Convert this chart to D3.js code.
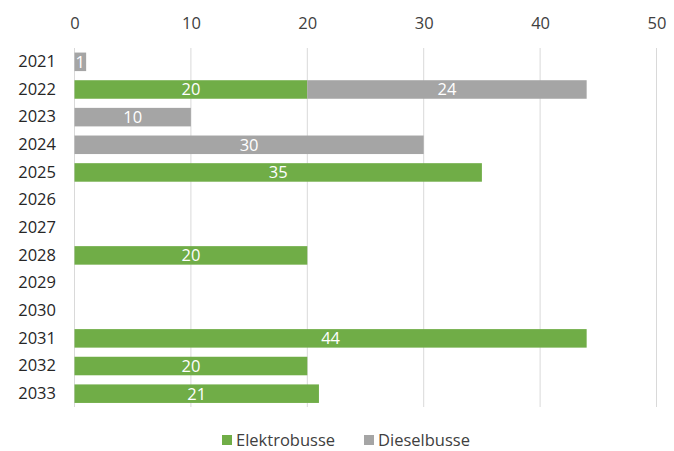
<!DOCTYPE html>
<html>
<head>
<meta charset="utf-8">
<script src="https://cdn.jsdelivr.net/npm/d3@7"></script>
<style>
  html, body { margin: 0; padding: 0; background: #fff; }
  svg { display: block; font-family: "Open Sans", "Noto Sans", sans-serif; }
</style>
</head>
<body>
<svg id="chart" width="674" height="451"></svg>
<script>
// Busbeschaffung je Jahr
const years = ["2021","2022","2023","2024","2025","2026","2027","2028","2029","2030","2031","2032","2033"];
const elektro = [0, 20, 0, 0, 35, 0, 0, 20, 0, 0, 44, 20, 21];
const diesel  = [1, 24, 10, 30, 0, 0, 0, 0, 0, 0, 0, 0, 0];
const xTicks = [0, 10, 20, 30, 40, 50];
const seriesNames = ["Elektrobusse", "Dieselbusse"];
const colors = ["#70ad47", "#a5a5a5"];

const svg = d3.select("#chart");

const x = d3.scaleLinear().domain([0, 50]).range([74.5, 656.5]);
const y = d3.scaleBand().domain(years).range([48, 407.5]).paddingInner(0.33).paddingOuter(0.165);

// vertical gridlines
svg.append("g").selectAll("line").data(xTicks).join("line")
  .attr("x1", d => x(d)).attr("x2", d => x(d))
  .attr("y1", 48).attr("y2", 407)
  .attr("stroke", "#d9d9d9").attr("stroke-width", 1);

// top axis labels
const xAxis = d3.axisTop(x).tickValues(xTicks).tickSize(0).tickPadding(0);
const gx = svg.append("g").attr("transform", "translate(0,23)").call(xAxis);
gx.select(".domain").remove();
gx.selectAll("text").attr("font-size", 16.5).attr("fill", "#404040")
  .attr("font-family", "'Open Sans', sans-serif").attr("dy", "0.35em");

// year labels
const yAxis = d3.axisLeft(y).tickSize(0).tickPadding(0);
const gy = svg.append("g").attr("transform", "translate(56,0)").call(yAxis);
gy.select(".domain").remove();
gy.selectAll("text").attr("font-size", 16.5).attr("fill", "#262626")
  .attr("font-family", "'Open Sans', sans-serif");

// stacked bars
const rows = years.map((yr, i) => ({ yr, e: elektro[i], d: diesel[i] }));
const stack = d3.stack().keys(["e", "d"])(rows);

stack.forEach((layer, k) => {
  const g = svg.append("g");
  g.selectAll("rect").data(layer.filter(s => s[1] - s[0] > 0)).join("rect")
    .attr("x", s => x(s[0]))
    .attr("y", s => y(s.data.yr))
    .attr("width", s => x(s[1]) - x(s[0]))
    .attr("height", y.bandwidth())
    .attr("fill", colors[k]);
  g.selectAll("text").data(layer.filter(s => s[1] - s[0] > 0)).join("text")
    .attr("x", s => (x(s[0]) + x(s[1])) / 2)
    .attr("y", s => y(s.data.yr) + y.bandwidth() / 2)
    .attr("dy", "0.36em")
    .attr("text-anchor", "middle")
    .attr("font-size", 16.5)
    .attr("fill", "#ffffff")
    .text(s => s[1] - s[0]);
});

// legend
const legend = svg.append("g").attr("transform", "translate(0,440)");
const legX = [222, 364];
seriesNames.forEach((name, i) => {
  legend.append("rect").attr("x", legX[i]).attr("y", -5).attr("width", 10).attr("height", 10).attr("fill", colors[i]);
  legend.append("text").attr("x", legX[i] + 14).attr("y", 0).attr("dy", "0.36em")
    .attr("font-size", 16.5).attr("fill", "#404040").text(name);
});
</script>
</body>
</html>
